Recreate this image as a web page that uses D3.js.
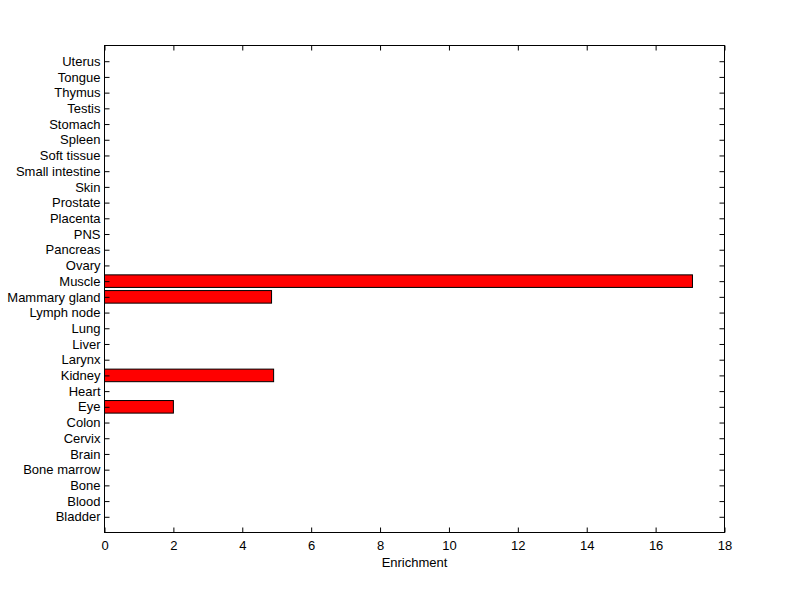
<!DOCTYPE html>
<html><head><meta charset="utf-8">
<script src="https://cdn.jsdelivr.net/npm/d3@7"></script>
<style>body{margin:0;background:#fff}svg{display:block}text{font-family:"Liberation Sans",Arial,sans-serif}</style>
</head><body>
<svg id="c" width="800" height="599"></svg>
<script>
const categories = ["Bladder","Blood","Bone","Bone marrow","Brain","Cervix","Colon","Eye","Heart","Kidney","Larynx","Liver","Lung","Lymph node","Mammary gland","Muscle","Ovary","Pancreas","PNS","Placenta","Prostate","Skin","Small intestine","Soft tissue","Spleen","Stomach","Testis","Thymus","Tongue","Uterus"];
const values = [0,0,0,0,0,0,0,2.0,0,4.91,0,0,0,0,4.85,17.07,0,0,0,0,0,0,0,0,0,0,0,0,0,0];
const xTicks = [0,2,4,6,8,10,12,14,16,18];
const xLabel = "Enrichment";

const svg = d3.select("#c");
const L=104.5, R=724.5, T=45.5, B=532.5;
const x = d3.scaleLinear().domain([0,18]).range([L,R]);
const y = d3.scaleLinear().domain([0,categories.length+1]).range([B,T]);
const bw = 0.8;
const fs = "13px";

const barData = values.map((v,i)=>({v,i})).filter(d=>d.v>0);
// bars
svg.append("g").selectAll("rect").data(barData)
  .join("rect")
  .attr("x",x(0)).attr("width",d=>x(d.v)-x(0))
  .attr("y",d=>y(d.i+1+bw/2)).attr("height",d=>y(d.i+1-bw/2)-y(d.i+1+bw/2))
  .attr("fill","#ff0000").attr("stroke","#000").attr("stroke-width",1);

// frame
svg.append("rect").attr("x",L).attr("y",T).attr("width",R-L).attr("height",B-T)
  .attr("fill","none").attr("stroke","#000").attr("stroke-width",1);

const tl=5;
const xa = d3.axisBottom(x).tickValues(xTicks).tickSize(-tl).tickPadding(8).tickFormat(d3.format("d"));
const gx = svg.append("g").attr("transform",`translate(0,${B})`).call(xa);
gx.select(".domain").remove();
gx.selectAll("text").attr("font-size",fs).attr("fill","#000").attr("font-family","Liberation Sans, Arial, sans-serif");
const gxt = svg.append("g").attr("transform",`translate(0,${T})`).call(d3.axisTop(x).tickValues(xTicks).tickSize(-tl).tickFormat(""));
gxt.select(".domain").remove();

const idx = categories.map((c,i)=>i+1);
const ya = d3.axisLeft(y).tickValues(idx).tickSize(-tl).tickPadding(4).tickFormat(d=>categories[d-1]);
const gy = svg.append("g").attr("transform",`translate(${L},0)`).call(ya);
gy.select(".domain").remove();
gy.selectAll("text").attr("font-size",fs).attr("fill","#000").attr("font-family","Liberation Sans, Arial, sans-serif");
const gyr = svg.append("g").attr("transform",`translate(${R},0)`).call(d3.axisRight(y).tickValues(idx).tickSize(-tl).tickFormat(""));
gyr.select(".domain").remove();
svg.selectAll(".tick line").attr("stroke","#000");

svg.append("text").attr("x",(L+R)/2).attr("y",567).attr("text-anchor","middle")
  .attr("font-size",fs).attr("fill","#000").text(xLabel);
</script>
</body></html>
